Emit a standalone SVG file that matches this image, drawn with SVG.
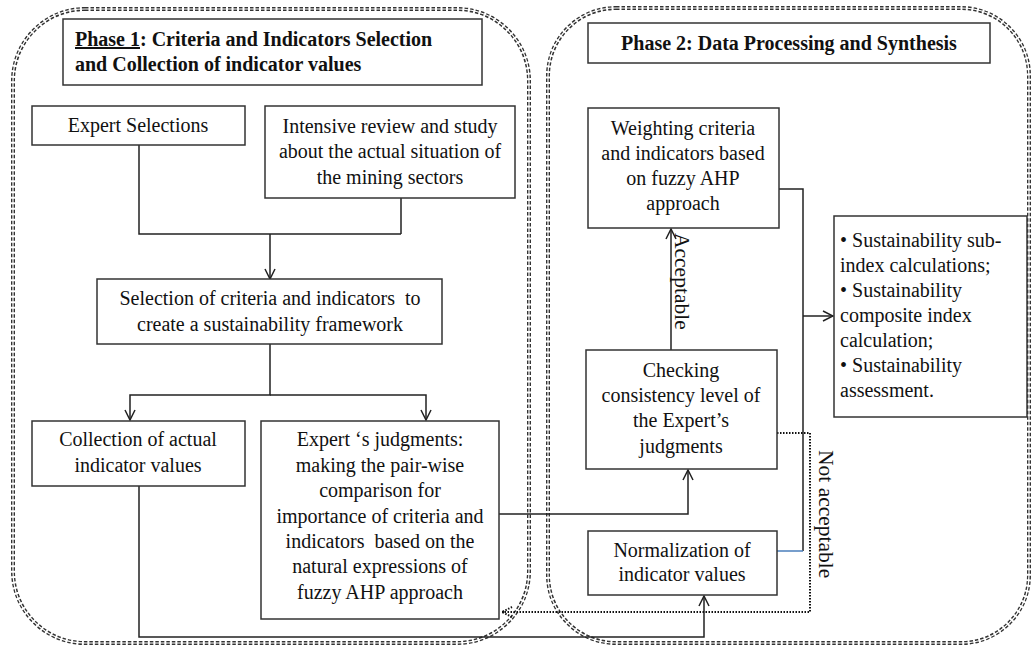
<svg xmlns="http://www.w3.org/2000/svg" width="1031" height="646" viewBox="0 0 1031 646">
<style>
text{font-family:"Liberation Serif","Times New Roman",serif;font-size:20px;fill:#111}
.t{text-anchor:middle}
.b{font-weight:bold}
.r{font-size:21.5px}
.box{fill:#fff;stroke:#333;stroke-width:1.5}
.cont{fill:none;stroke:#333;stroke-width:4;stroke-dasharray:3.5 2}
.cin{fill:none;stroke:#fff;stroke-width:1.2}
.ln{fill:none;stroke:#222;stroke-width:1.5}
.dot{fill:none;stroke:#111;stroke-width:2;stroke-dasharray:1.5 1.5}
</style>
<defs>
<marker id="ah" viewBox="0 0 12 12" refX="11" refY="6" markerWidth="12" markerHeight="12" markerUnits="userSpaceOnUse" orient="auto">
<path d="M1,1 L11,6 L1,11" fill="none" stroke="#222" stroke-width="1.5"/>
</marker>
<marker id="ahd" viewBox="0 0 12 12" refX="11" refY="6" markerWidth="12" markerHeight="12" markerUnits="userSpaceOnUse" orient="auto">
<path d="M1,1 L11,6 L1,11" fill="none" stroke="#111" stroke-width="2" stroke-dasharray="1.5 1.5"/>
</marker>
</defs>
<rect width="1031" height="646" fill="#fff"/>
<g id="phase1-container">
<rect class="cont" x="13" y="9" width="516" height="634" rx="72"/>
<rect class="cin" x="13" y="9" width="516" height="634" rx="72"/>
</g>
<g id="phase2-container">
<rect class="cont" x="548" y="8" width="481" height="635" rx="68"/>
<rect class="cin" x="548" y="8" width="481" height="635" rx="68"/>
</g>
<g id="phase1-title">
<rect class="box" x="63" y="19" width="419" height="66"/>
<text class="b" x="75" y="46"><tspan text-decoration="underline">Phase 1</tspan>: Criteria and Indicators Selection</text>
<text class="b" x="75" y="71">and Collection of indicator values</text>
</g>
<g id="phase2-title">
<rect class="box" x="588" y="23" width="402" height="40"/>
<text class="b t" x="789" y="50">Phase 2: Data Processing and Synthesis</text>
</g>
<g id="connectors">
<path class="ln" d="M139,145 V234 H401 M401,198 V234 M270,234 V279" marker-end="url(#ah)"/>
<path class="ln" d="M270,344 V395 H130 V420" marker-end="url(#ah)"/>
<path class="ln" d="M270,395 H426 V420" marker-end="url(#ah)"/>
<path class="ln" d="M139,486 V637 H704 V596" marker-end="url(#ah)"/>
<path class="ln" d="M499,514 H688 V470" marker-end="url(#ah)"/>
<path class="ln" d="M671,350 V229" marker-end="url(#ah)"/>
<path class="ln" d="M779,189 H803 V551"/>
<path class="ln" d="M803,316 H833" marker-end="url(#ah)"/>
<path d="M777,551 H803" fill="none" stroke="#4a7ebb" stroke-width="1.5"/>
<path class="dot" d="M777,433 H810 V612 H502" marker-end="url(#ahd)"/>
<text class="r" x="675" y="233" transform="rotate(90 675 233)">Acceptable</text>
<text class="r" x="819" y="450" transform="rotate(90 819 450)">Not acceptable</text>
</g>
<g id="expert-selections">
<rect class="box" x="32" y="106" width="213" height="39"/>
<text class="t" x="138" y="132">Expert Selections</text>
</g>
<g id="intensive-review">
<rect class="box" x="265" y="106" width="250" height="92"/>
<text class="t" x="390" y="133">Intensive review and study</text>
<text class="t" x="390" y="158">about the actual situation of</text>
<text class="t" x="390" y="184">the mining sectors</text>
</g>
<g id="selection">
<rect class="box" x="97" y="279" width="345" height="65"/>
<text class="t" x="270" y="305" xml:space="preserve">Selection of criteria and indicators  to</text>
<text class="t" x="270" y="331">create a sustainability framework</text>
</g>
<g id="collection">
<rect class="box" x="32" y="421" width="213" height="65"/>
<text class="t" x="138" y="446">Collection of actual</text>
<text class="t" x="138" y="472">indicator values</text>
</g>
<g id="expert-judgments">
<rect class="box" x="261" y="421" width="238" height="198"/>
<text class="t" x="380" y="446">Expert ‘s judgments:</text>
<text class="t" x="380" y="472">making the pair-wise</text>
<text class="t" x="380" y="497">comparison for</text>
<text class="t" x="380" y="523">importance of criteria and</text>
<text class="t" x="380" y="548" xml:space="preserve">indicators  based on the</text>
<text class="t" x="380" y="573">natural expressions of</text>
<text class="t" x="380" y="599">fuzzy AHP approach</text>
</g>
<g id="weighting">
<rect class="box" x="588" y="108" width="191" height="120"/>
<text class="t" x="683" y="135">Weighting criteria</text>
<text class="t" x="683" y="160">and indicators based</text>
<text class="t" x="683" y="185">on fuzzy AHP</text>
<text class="t" x="683" y="210">approach</text>
</g>
<g id="checking">
<rect class="box" x="586" y="350" width="191" height="119"/>
<text class="t" x="681" y="377">Checking</text>
<text class="t" x="681" y="402">consistency level of</text>
<text class="t" x="681" y="427">the Expert’s</text>
<text class="t" x="681" y="453">judgments</text>
</g>
<g id="normalization">
<rect class="box" x="588" y="531" width="189" height="64"/>
<text class="t" x="682" y="557">Normalization of</text>
<text class="t" x="682" y="581">indicator values</text>
</g>
<g id="sustainability">
<rect class="box" x="834" y="216" width="193" height="201"/>
<text x="840" y="247">• Sustainability sub-</text>
<text x="840" y="272">index calculations;</text>
<text x="840" y="297">• Sustainability</text>
<text x="840" y="322">composite index</text>
<text x="840" y="347">calculation;</text>
<text x="840" y="372">• Sustainability</text>
<text x="840" y="397">assessment.</text>
</g>
</svg>
